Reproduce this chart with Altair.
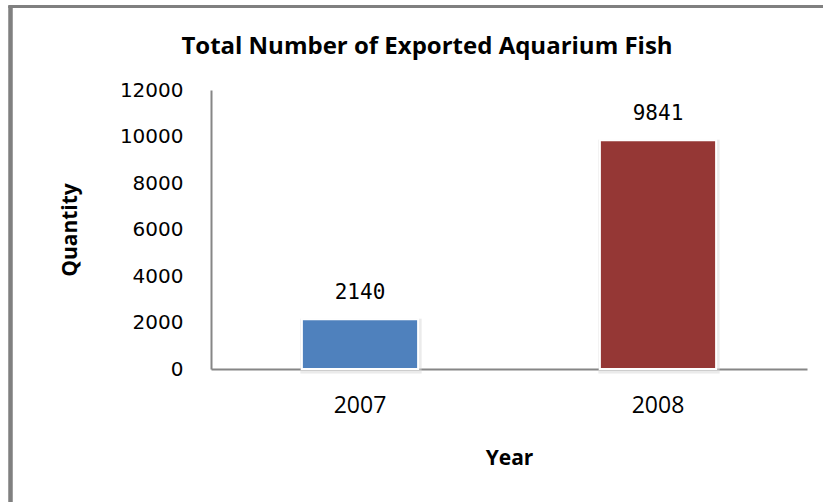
import altair as alt
import pandas as pd

years = ["2007", "2008"]
quantities = [2140, 9841]
bar_colors = ["#4F81BD", "#953735"]
chart_title = "Total Number of Exported Aquarium Fish"

df = pd.DataFrame({"Year": years, "Quantity": quantities, "color": bar_colors})

W, H = 596, 279
L, T = 211, 90

x_enc = alt.X("Year:N", sort=years,
              scale=alt.Scale(paddingInner=0.61, paddingOuter=0.305),
              axis=alt.Axis(title="Year", labelAngle=0, ticks=False, domain=True,
                            domainColor="#868686", domainWidth=2,
                            labelFont="Open Sans", labelFontSize=23, labelColor="#000000",
                            labelPadding=25,
                            titleFont="Open Sans", titleFontWeight="bold", titleFontSize=21,
                            titleColor="#000000", titleX=W / 2, titleY=89, titleBaseline="middle"))
y_enc = alt.Y("Quantity:Q",
              scale=alt.Scale(domain=[0, 12000]),
              axis=alt.Axis(title="Quantity", values=list(range(0, 12001, 2000)), format="d",
                            grid=False, ticks=False, domain=True,
                            domainColor="#868686", domainWidth=2,
                            labelFont="DejaVu Sans", labelFontSize=20, labelColor="#000000",
                            labelPadding=28, labelBaseline="middle",
                            titleFont="Open Sans", titleFontWeight="bold", titleFontSize=21,
                            titleColor="#000000", titleAngle=-90, titleX=-141, titleY=H / 2,
                            titleBaseline="middle", titleAlign="center"))

base = alt.Chart(df).encode(x=x_enc, y=y_enc)

shadow = base.mark_bar(color="#c8c8c8", opacity=0.5, stroke="#d8d8d8", strokeWidth=5,
                       xOffset=1, yOffset=2)
bars = base.mark_bar(stroke="white", strokeWidth=2).encode(
    color=alt.Color("color:N", scale=None))
labels = base.mark_text(dy=-16, font="DejaVu Sans Mono", fontSize=21, color="#000000",
                        baseline="bottom").encode(text="Quantity:Q")

title_df = pd.DataFrame({"t": [chart_title]})
title_mark = alt.Chart(title_df).mark_text(
    font="Open Sans", fontSize=24, fontWeight="bold", color="#000000",
    baseline="alphabetic", align="center").encode(
    text="t:N", x=alt.value(427 - L), y=alt.value(54 - T))

frame_left = alt.Chart(df).mark_rule(color="#808080", strokeWidth=4).encode(
    x=alt.value(10.5 - L), y=alt.value(6 - T), y2=alt.value(502 - T))
frame_top = alt.Chart(df).mark_rule(color="#808080", strokeWidth=3).encode(
    x=alt.value(8.5 - L), x2=alt.value(823 - L), y=alt.value(6.5 - T))

chart = alt.layer(shadow, bars, labels, title_mark, frame_left, frame_top).properties(
    width=W, height=H,
    autosize=alt.AutoSizeParams(type="none"),
    padding={"left": L, "top": T, "right": 823 - L - W, "bottom": 502 - T - H},
    background="white",
).configure_view(stroke=None)

chart.save("out.html", embed_options={"renderer": "svg", "actions": False})
